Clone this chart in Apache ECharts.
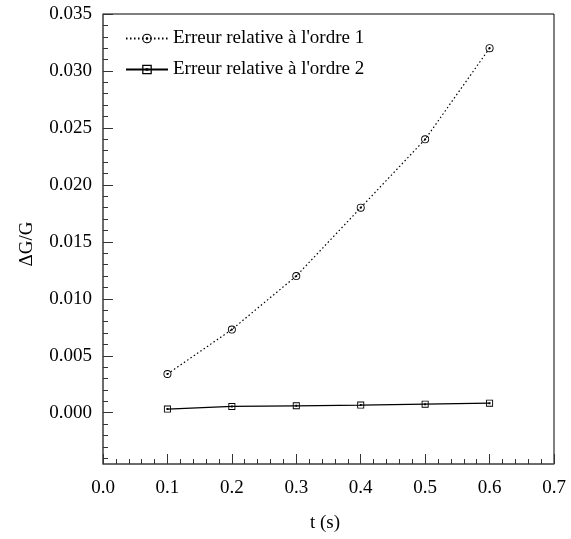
<!DOCTYPE html>
<html><head><meta charset="utf-8">
<script src="https://cdn.jsdelivr.net/npm/echarts@6/dist/echarts.min.js"></script>
<style>html,body{margin:0;padding:0;background:#fff}#c{width:571px;height:539px}</style>
</head><body><div id="c"></div>
<script>
const tValues = [0.1, 0.2, 0.3, 0.4, 0.5, 0.6];
const err1 = [0.0034, 0.0073, 0.0120, 0.0180, 0.0240, 0.0320];
const err2 = [0.00032, 0.00055, 0.00061, 0.00067, 0.00075, 0.00084];
const seriesNames = ["Erreur relative à l'ordre 1", "Erreur relative à l'ordre 2"];
const yMajor = [0.000, 0.005, 0.010, 0.015, 0.020, 0.025, 0.030, 0.035];
const yMinor = [-0.004,-0.003,-0.002,-0.001,0.001,0.002,0.003,0.004,0.006,0.007,0.008,0.009,0.011,0.012,0.013,0.014,0.016,0.017,0.018,0.019,0.021,0.022,0.023,0.024,0.026,0.027,0.028,0.029,0.031,0.032,0.033,0.034];
const yMin = -0.0045, yMax = 0.035;

const FONT = '"Liberation Serif", serif';
const circleDot = 'path://M5,0 A5,5 0 1,1 5,10 A5,5 0 1,1 5,0 Z M5,1.1 A3.9,3.9 0 1,0 5,8.9 A3.9,3.9 0 1,0 5,1.1 Z M5,3.6 A1.4,1.4 0 1,1 5,6.4 A1.4,1.4 0 1,1 5,3.6 Z';
const squareDot = 'path://M0,0 H10 V10 H0 Z M1.3,1.3 V8.7 H8.7 V1.3 Z M3.6,3.6 H6.4 V6.4 H3.6 Z';

const chart = echarts.init(document.getElementById('c'), null, {renderer:'canvas'});
chart.setOption({
  animation:false,
  backgroundColor:'#fff',
  grid:{left:103, right:17, top:14, bottom:75, show:true, borderColor:'#000', borderWidth:1},
  legend:{
    left:120, top:24, orient:'vertical', itemWidth:42, itemHeight:12, itemGap:12,
    textStyle:{fontFamily:FONT, fontSize:19, color:'#000'},
    data:seriesNames
  },
  xAxis:{
    type:'value', min:0, max:0.7, interval:0.1,
    axisLine:{onZero:false, lineStyle:{color:'#666', width:1.5}},
    axisTick:{inside:true, length:10, lineStyle:{color:'#333'}},
    minorTick:{show:true, splitNumber:5, length:5, lineStyle:{color:'#333'}},
    splitLine:{show:false},
    axisLabel:{fontFamily:FONT, fontSize:19, color:'#000', margin:15, formatter:v=>v.toFixed(1)}
  },
  yAxis:[{
    type:'value', min:yMin, max:yMax,
    axisLine:{show:true, onZero:false, lineStyle:{color:'#666', width:1.5}},
    axisTick:{inside:true, length:10, customValues:yMajor, lineStyle:{color:'#333'}},
    splitLine:{show:false},
    axisLabel:{fontFamily:FONT, fontSize:19, color:'#000', margin:11, customValues:yMajor, formatter:v=>v.toFixed(3)}
  },{
    type:'value', min:yMin, max:yMax, position:'left',
    axisLine:{show:false, onZero:false},
    axisTick:{inside:true, length:5, customValues:yMinor, lineStyle:{color:'#333'}},
    splitLine:{show:false},
    axisLabel:{show:false}
  }],
  graphic:[
    {type:'text', x:27, y:244, rotation:Math.PI/2, style:{text:'ΔG/G', fontFamily:FONT, fontSize:19, fill:'#000', align:'center', verticalAlign:'middle'}},
    {type:'text', x:325, y:523, style:{text:'t (s)', fontFamily:FONT, fontSize:19, fill:'#000', align:'center', verticalAlign:'middle'}}
  ],
  series:[
    {name:seriesNames[0], type:'line', yAxisIndex:0, data:tValues.map((t,i)=>[t,err1[i]]),
     symbol:circleDot, symbolSize:8, showSymbol:true,
     lineStyle:{color:'#000', width:1.2, type:[1.5,2.5]}, itemStyle:{color:'#000'}},
    {name:seriesNames[1], type:'line', yAxisIndex:0, data:tValues.map((t,i)=>[t,err2[i]]),
     symbol:squareDot, symbolSize:7, showSymbol:true,
     lineStyle:{color:'#000', width:1.2, type:'solid'}, itemStyle:{color:'#000'}}
  ]
});
</script></body></html>
